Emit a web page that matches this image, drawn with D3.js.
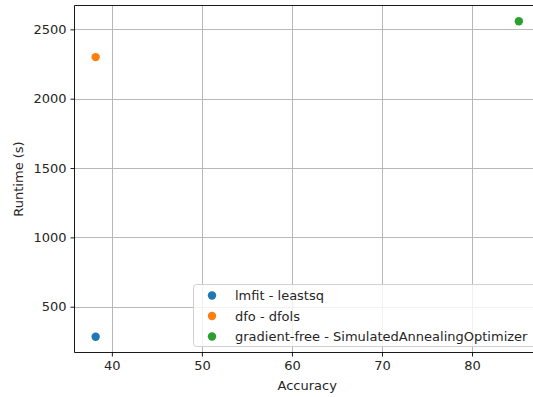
<!DOCTYPE html>
<html><head><meta charset="utf-8">
<script src="https://cdn.jsdelivr.net/npm/d3@7"></script>
<style>body{margin:0;background:#fff}svg{display:block}text{font-family:"DejaVu Sans",sans-serif;fill:#262626}</style>
</head><body>
<script>
const seriesNames = ["lmfit - leastsq", "dfo - dfols", "gradient-free - SimulatedAnnealingOptimizer"];
const accuracy = [38.2, 38.2, 85.2];
const runtime = [284, 2300, 2558];
const colors = ["#1f77b4", "#ff7f0e", "#2ca02c"];
const xTicks = [40, 50, 60, 70, 80];
const yTicks = [500, 1000, 1500, 2000, 2500];

const W = 533, H = 397;
const m = {left: 74.5, top: 5.5, right: 540, bottom: 352.5};
const fs = 13;
const svg = d3.select("body").append("svg").attr("width", W).attr("height", H);

const x = d3.scaleLinear().domain([35.85, 87.55]).range([m.left, m.right]);
const y = d3.scaleLinear().domain([170, 2672]).range([m.bottom, m.top]);

const g = svg.append("g");
g.selectAll(".gx").data(xTicks).join("line")
  .attr("x1", d => Math.round(x(d)) + 0.5).attr("x2", d => Math.round(x(d)) + 0.5)
  .attr("y1", m.top).attr("y2", m.bottom).attr("stroke", "#b0b0b0").attr("stroke-width", 0.9);
g.selectAll(".gy").data(yTicks).join("line")
  .attr("y1", d => Math.round(y(d)) + 0.5).attr("y2", d => Math.round(y(d)) + 0.5)
  .attr("x1", m.left).attr("x2", m.right).attr("stroke", "#b0b0b0").attr("stroke-width", 0.9);

const xAxis = d3.axisBottom(x).tickValues(xTicks).tickSize(4).tickPadding(4).tickFormat(d3.format("d"));
const yAxis = d3.axisLeft(y).tickValues(yTicks).tickSize(4).tickPadding(4).tickFormat(d3.format("d"));
const gx = svg.append("g").attr("transform", `translate(0,${m.bottom})`).call(xAxis);
const gy = svg.append("g").attr("transform", `translate(${m.left},0)`).call(yAxis);
[gx, gy].forEach(a => {
  a.select(".domain").remove();
  a.selectAll("line").attr("stroke", "#000").attr("stroke-width", 0.9);
  a.selectAll("text").attr("font-size", fs).attr("fill", "#262626").style("font-family", "DejaVu Sans");
});
svg.append("line").attr("x1", m.left).attr("x2", m.left).attr("y1", m.top).attr("y2", m.bottom).attr("stroke", "#000").attr("stroke-width", 0.9);
svg.append("line").attr("x1", m.left).attr("x2", m.right).attr("y1", m.bottom).attr("y2", m.bottom).attr("stroke", "#000").attr("stroke-width", 0.9);
svg.append("line").attr("x1", m.left).attr("x2", m.right).attr("y1", m.top).attr("y2", m.top).attr("stroke", "#000").attr("stroke-width", 0.9);

svg.selectAll(".pt").data(seriesNames.map((n, i) => ({n, a: accuracy[i], r: runtime[i], c: colors[i]})))
  .join("circle").attr("cx", d => x(d.a)).attr("cy", d => y(d.r)).attr("r", 4.2).attr("fill", d => d.c);

svg.append("text").attr("x", (m.left + m.right) / 2).attr("y", 390).attr("text-anchor", "middle").attr("font-size", fs).text("Accuracy");
svg.append("text").attr("transform", `translate(23,${(m.top + m.bottom) / 2}) rotate(-90)`).attr("text-anchor", "middle").attr("font-size", fs).text("Runtime (s)");

const lg = svg.append("g");
lg.append("rect").attr("x", 193.5).attr("y", 284.5).attr("width", 345).attr("height", 62).attr("rx", 3)
  .attr("fill", "#fff").attr("fill-opacity", 0.8).attr("stroke", "#cccccc").attr("stroke-width", 0.9);
seriesNames.forEach((n, i) => {
  const cy = 295.5 + i * 20.5;
  lg.append("circle").attr("cx", 212).attr("cy", cy).attr("r", 4.2).attr("fill", colors[i]);
  lg.append("text").attr("x", 235).attr("y", cy + 4.6).attr("font-size", fs).text(n);
});
</script>
</body></html>
